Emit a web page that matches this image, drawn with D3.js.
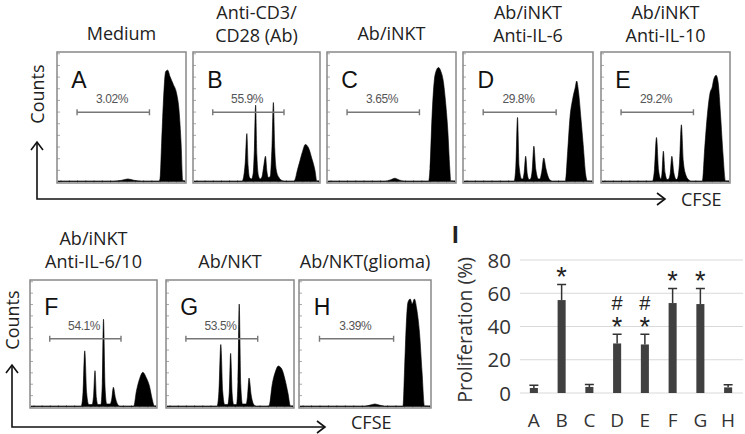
<!DOCTYPE html>
<html>
<head>
<meta charset="utf-8">
<script src="https://cdn.jsdelivr.net/npm/d3@7"></script>
<style>
  body { margin: 0; background: #fff; }
  svg { display: block; }
</style>
</head>
<body>
<svg id="fig" width="745" height="434"></svg>
<script>
// ---- data ----
const panelIds = ["A", "B", "C", "D", "E", "F", "G", "H"];
const panelTitles = [
  ["Medium"], ["Anti-CD3/", "CD28 (Ab)"], ["Ab/iNKT"], ["Ab/iNKT", "Anti-IL-6"],
  ["Ab/iNKT", "Anti-IL-10"], ["Ab/iNKT", "Anti-IL-6/10"], ["Ab/NKT"], ["Ab/NKT(glioma)"]
];
const gatePercents = ["3.02%", "55.9%", "3.65%", "29.8%", "29.2%", "54.1%", "53.5%", "3.39%"];

// histograms: [CFSE position (% of panel width), counts (% of panel height)]
const histA = [[0,0.4],[44,0.4],[50,0.9],[55,2],[60,0.9],[66,0.4],[79.5,0.4],[80.3,2],[81.6,30],[82.9,60],[84.8,85],[86.4,86],[88.2,81],[90.8,75],[93.4,68],[95.3,55],[96.9,30],[98.2,1],[100,0.4]];
const histB = [[0,0.4],[38.5,0.4],[39.6,3],[41,15],[42.3,37],[43.3,12],[44.5,3],[46,2],[47.3,6],[48.3,25],[49.3,59],[50.3,20],[51.7,4],[53,2],[54.5,4],[55.8,12],[57.2,19.5],[58.3,8],[59.6,3],[61,4],[62.3,25],[63.5,61],[64.6,25],[66,8],[68,3],[70,1],[72,0.4],[79.8,0.4],[81,2],[82.5,8],[84.2,14],[86.9,23.4],[89,28.6],[91.6,26],[94.2,18],[96.9,8],[98.2,0.5],[100,0.4]];
const histC = [[0,0.4],[45,0.4],[49,1.2],[52.6,2.5],[56,1.2],[60,0.4],[79.3,0.4],[80.3,10],[81.9,50],[83.7,78],[85,85],[87,88],[88.9,85],[90.7,78],[92.7,60],[94.3,40],[95.9,10],[96.6,0.5],[100,0.4]];
const histD = [[0,0.4],[39.2,0.4],[40.5,12],[41.8,49.5],[43,12],[45.1,2],[45.9,2],[47,7],[48.2,19.5],[49.4,6],[50.8,1.5],[52,2],[53.3,9],[54.6,27.3],[56,10],[58.2,2],[59.2,2],[60.8,8],[62.3,18.2],[64,10],[66,3],[67.4,1],[69,0.4],[79.2,0.4],[81,23.4],[82.8,49.5],[84.9,63.8],[87,73],[88,77.6],[89.5,69],[91.3,49.5],[93.1,28.6],[95.1,5],[96.4,0.5],[100,0.4]];
const histE = [[0,0.4],[39.8,0.4],[41.3,9],[42.9,34],[44.5,9],[46.3,2],[47.2,6],[48.3,23.4],[49.6,7],[51.4,1.5],[52.5,2],[53.7,6],[55,19.5],[56.5,7],[58.6,1.5],[59.7,3],[61,14],[62.5,43.8],[64,16],[66,5],[68.7,1],[70,0.4],[79,0.4],[80.9,26],[83,52],[85,68],[86.8,73],[88,79],[89.9,82],[91.5,76],[93.3,52],[95.3,21],[97.2,0.5],[100,0.4]];
const histF = [[0,0.4],[40.2,0.4],[41.6,11],[43,44],[44.5,11],[46.2,1.5],[48.8,1.5],[50,8],[51.2,28.3],[52.3,7],[53.5,1.5],[55.9,1.5],[57,18],[58,69],[59.2,16],[60.6,2],[63.3,2],[64.6,6],[65.9,15.2],[67.5,7],[69.8,1],[71,0.4],[82.2,0.4],[84.3,12],[86.9,22],[89.5,27],[92.1,23],[94.8,16],[96.9,6],[98.7,0.5],[100,0.4]];
const histG = [[0,0.4],[39.8,0.4],[41.2,12],[42.7,49],[44.2,12],[45.8,1.5],[48.2,1.5],[49.4,11],[50.5,42],[51.7,10],[52.9,1.5],[55.2,1.5],[56.3,20],[57.3,81],[58.5,18],[59.9,2],[62.8,2],[63.9,8],[65.1,22.5],[66.8,9],[69.3,1],[71,0.4],[81,0.4],[83.6,18],[86.2,28],[88.3,32],[90.9,30],[93.5,22],[96.1,10],[97.9,0.5],[100,0.4]];
const histH = [[0,0.4],[50,0.4],[54,1.1],[57.6,2],[61,1.1],[65,0.4],[79.2,0.4],[80.5,31.6],[81.7,63.8],[83,82.3],[84.8,85],[86.3,81],[88,85],[89.8,77],[91.9,58.6],[93.9,27],[95.7,0.5],[100,0.4]];
const histograms = [histA, histB, histC, histD, histE, histF, histG, histH];
const gateRange = [15, 72];

// bar chart (panel I)
const barCategories = ["A", "B", "C", "D", "E", "F", "G", "H"];
const proliferation = [3.02, 55.9, 3.65, 29.8, 29.2, 54.1, 53.5, 3.39];
const proliferationErr = [1.6, 9.4, 1.4, 5.6, 6.2, 8.8, 9.4, 1.5];
const significance = [[], ["*"], [], ["*", "#"], ["*", "#"], ["*"], ["*"], []];
const yTicks = [0, 20, 40, 60, 80];

// ---- layout ----
const svg = d3.select("#fig");
const titleFont = "'Open Sans', sans-serif";
const letterFont = "'Liberation Sans', Arial, sans-serif";
const titleSize = 18;

const boxes = [
  { x: 57, y: 52, w: 129, h: 131 },
  { x: 193, y: 52, w: 127, h: 131 },
  { x: 327, y: 52, w: 129, h: 131 },
  { x: 463, y: 52, w: 130, h: 131 },
  { x: 601, y: 52, w: 129, h: 131 },
  { x: 30, y: 280, w: 127, h: 128 },
  { x: 166, y: 280, w: 128, h: 128 },
  { x: 299, y: 280, w: 132, h: 128 }
];

boxes.forEach((b, i) => {
  const g = svg.append("g");
  const x = d3.scaleLinear().domain([0, 100]).range([b.x + 1, b.x + b.w - 1]);
  const y = d3.scaleLinear().domain([0, 100]).range([b.y + b.h - 1.5, b.y]);

  // titles
  const lines = panelTitles[i];
  const lastBase = i < 5 ? 42 : 268;
  const lineGap = i < 5 ? 23 : 23.5;
  lines.forEach((t, k) => {
    g.append("text")
      .attr("x", b.x + b.w / 2)
      .attr("y", (i < 5 && lines.length === 1 ? 40 : lastBase) - (lines.length - 1 - k) * lineGap)
      .attr("text-anchor", "middle")
      .attr("font-family", titleFont)
      .attr("font-size", titleSize)
      .attr("fill", "#222")
      .text(t);
  });

  // ticks inside the frame
  const left = d3.axisRight(y).tickValues(d3.range(0, 100, 9)).tickSize(3).tickFormat("");
  g.append("g").attr("transform", `translate(${b.x},0)`).call(left)
    .call(a => a.select(".domain").remove())
    .selectAll("line").attr("stroke", "#aaa");
  const bottom = d3.axisTop(x).tickValues(d3.range(2, 100, 6.5)).tickSize(3).tickFormat("");
  g.append("g").attr("transform", `translate(0,${b.y + b.h})`).call(bottom)
    .call(a => a.select(".domain").remove())
    .selectAll("line").attr("stroke", "#aaa");

  // histogram
  const area = d3.area()
    .x(d => x(d[0]))
    .y0(y(0))
    .y1(d => y(d[1]))
    .curve(d3.curveMonotoneX);
  g.append("path").datum(histograms[i]).attr("d", area)
    .attr("fill", "#000").attr("stroke", "#000").attr("stroke-width", 0.6);

  // frame
  g.append("rect")
    .attr("x", b.x).attr("y", b.y).attr("width", b.w).attr("height", b.h)
    .attr("fill", "none").attr("stroke", "#888").attr("stroke-width", 1.5);

  // panel letter
  g.append("text")
    .attr("x", x(10.5)).attr("y", y(72))
    .attr("font-family", letterFont).attr("font-size", 23)
    .attr("fill", "#111")
    .text(panelIds[i]);

  // gate
  const gy = y(53.5);
  g.append("path")
    .attr("d", `M${x(gateRange[0])},${gy}H${x(gateRange[1])}M${x(gateRange[0])},${gy - 3}v6M${x(gateRange[1])},${gy - 3}v6`)
    .attr("stroke", "#777").attr("stroke-width", 1.4).attr("fill", "none");
  g.append("text")
    .attr("x", x(42.5)).attr("y", y(60.5))
    .attr("text-anchor", "middle")
    .attr("font-family", letterFont).attr("font-size", 12)
    .attr("letter-spacing", -0.4)
    .attr("fill", "#555")
    .text(gatePercents[i]);
});

// big axis arrows (Counts / CFSE)
function axisArrow(x0, y0, yTop, xRight, countsY, cfseX, cfseBase) {
  const g = svg.append("g").attr("stroke", "#111").attr("stroke-width", 1.6).attr("fill", "none");
  g.append("path").attr("d", `M${x0},${yTop}V${y0}H${xRight}`);
  g.append("path").attr("d", `M${x0 - 6},${yTop + 8}L${x0},${yTop}L${x0 + 6},${yTop + 8}`);
  g.append("path").attr("d", `M${xRight - 8},${y0 - 6}L${xRight},${y0}L${xRight - 8},${y0 + 6}`);
  svg.append("text")
    .attr("transform", `translate(${x0 + 7},${countsY}) rotate(-90)`)
    .attr("text-anchor", "middle")
    .attr("font-family", titleFont).attr("font-size", titleSize).attr("fill", "#222")
    .text("Counts");
  svg.append("text")
    .attr("x", cfseX).attr("y", cfseBase)
    .attr("font-family", titleFont).attr("font-size", titleSize).attr("fill", "#222")
    .text("CFSE");
}
axisArrow(37, 199, 142, 665, 94, 681, 206);
axisArrow(12, 427, 365, 325, 320, 351, 429);

// ---- panel I: bar chart ----
const bx = d3.scaleBand().domain(barCategories).range([520, 742]).paddingInner(0.71).paddingOuter(0.355);
const by = d3.scaleLinear().domain([0, 80]).range([393, 260]);
const gi = svg.append("g");

gi.append("g").selectAll("line").data(yTicks).join("line")
  .attr("x1", 520).attr("x2", 743)
  .attr("y1", d => by(d)).attr("y2", d => by(d))
  .attr("stroke", "#d9d9d9").attr("stroke-width", 1.2);

gi.append("g").selectAll("text").data(yTicks).join("text")
  .attr("x", 511).attr("y", d => by(d) + 7.5)
  .attr("text-anchor", "end")
  .attr("font-family", titleFont).attr("font-size", 20.5).attr("fill", "#333")
  .text(d => d);

gi.append("text")
  .attr("transform", `translate(472,${by(38)}) rotate(-90)`)
  .attr("text-anchor", "middle")
  .attr("font-family", titleFont).attr("font-size", 19.5).attr("fill", "#333")
  .text("Proliferation (%)");

gi.append("text")
  .attr("x", 452).attr("y", 243)
  .attr("font-family", letterFont).attr("font-weight", "bold").attr("font-size", 24)
  .attr("fill", "#222")
  .text("I");

const bars = gi.append("g").selectAll("g").data(barCategories).join("g");
bars.append("rect")
  .attr("x", d => bx(d)).attr("width", bx.bandwidth())
  .attr("y", (d, i) => by(proliferation[i]))
  .attr("height", (d, i) => by(0) - by(proliferation[i]))
  .attr("fill", "#404040");
bars.append("path")
  .attr("d", (d, i) => {
    const cx = bx(d) + bx.bandwidth() / 2;
    const top = by(proliferation[i] + proliferationErr[i]);
    return `M${cx},${by(proliferation[i])}V${top}M${cx - 4.5},${top}H${cx + 4.5}`;
  })
  .attr("stroke", "#333").attr("stroke-width", 1.5).attr("fill", "none");
bars.each(function (d, i) {
  const cx = bx(d) + bx.bandwidth() / 2;
  const top = by(proliferation[i] + proliferationErr[i]);
  significance[i].forEach((s, k) => {
    d3.select(this).append("text")
      .attr("x", cx)
      .attr("y", s === "*" ? top + 2 - k * 17 : top - 24)
      .attr("text-anchor", "middle")
      .attr("font-family", letterFont).attr("font-size", s === "*" ? 27 : 20)
      .attr("fill", "#222")
      .text(s);
  });
});

gi.append("g").selectAll("text").data(barCategories).join("text")
  .attr("x", d => bx(d) + bx.bandwidth() / 2).attr("y", 427)
  .attr("text-anchor", "middle")
  .attr("font-family", titleFont).attr("font-size", 19).attr("fill", "#333")
  .text(d => d);
</script>
</body>
</html>
